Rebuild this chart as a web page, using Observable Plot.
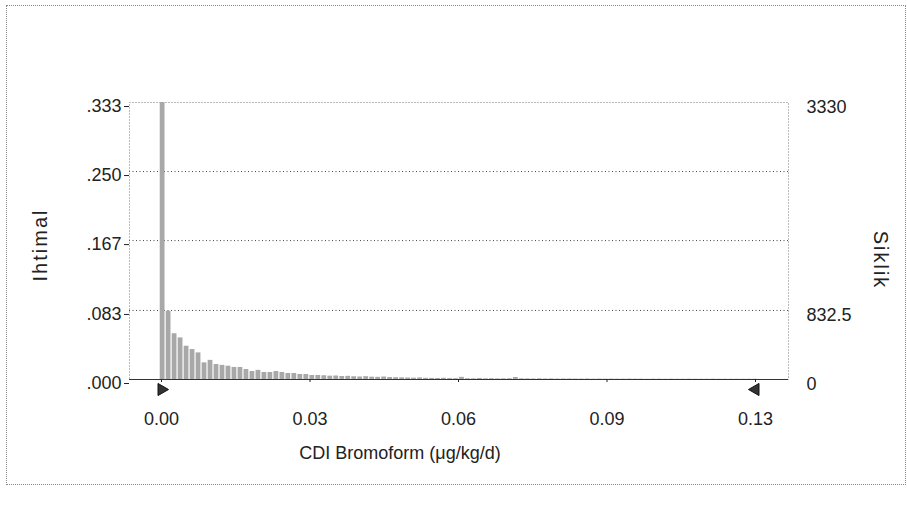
<!DOCTYPE html>
<html>
<head>
<meta charset="utf-8">
<script src="https://cdn.jsdelivr.net/npm/d3@7"></script>
<script src="https://cdn.jsdelivr.net/npm/@observablehq/plot@0.6"></script>
<style>
  html, body { margin: 0; padding: 0; background: #fff; }
  #wrap { position: relative; width: 907px; height: 506px; }
  #border { position: absolute; left: 6px; top: 5px; width: 898px; height: 478px; border: 1px dotted #8a8a8a; pointer-events: none; }
</style>
</head>
<body>
<div id="wrap"><div id="border"></div><div id="chart"></div></div>
<script>
// Forecast histogram: probability per bin (bin width in µg/kg/d)
const binWidth = 0.00127;
const firstBinStart = -0.0004;
const probabilities = [
  0.333, 0.082, 0.055, 0.050, 0.040, 0.036, 0.032, 0.020, 0.023, 0.018,
  0.017, 0.016, 0.0145, 0.0145, 0.012, 0.0096, 0.011, 0.0084, 0.0084, 0.0096,
  0.0084, 0.0072, 0.0072, 0.006, 0.006, 0.0048, 0.0048, 0.0045, 0.004, 0.0042,
  0.0036, 0.0038, 0.0033, 0.003, 0.0034, 0.0028, 0.0026, 0.003, 0.0024, 0.0022,
  0.002, 0.0018, 0.0016, 0.0019, 0.0014, 0.0013, 0.0012, 0.0015, 0.0011, 0.001,
  0.0026, 0.0009, 0.0008, 0.0012, 0.0008, 0.0009, 0.0007, 0.0008, 0.0009, 0.0024,
  0.0008, 0.0007, 0.0006, 0.0008, 0.0006, 0.0007, 0.0005, 0.0006, 0.0006, 0.0005,
  0.0005, 0.0006, 0.0004, 0.0005, 0.0004, 0.0005, 0.0004, 0.0004, 0.0005, 0.0004,
  0.0004, 0.0003, 0.0004, 0.0004, 0.0003, 0.0004, 0.0003, 0.0003, 0.0004, 0.0003,
  0.0003, 0.0003, 0.0004, 0.0003, 0.0003, 0.0003, 0.0003, 0.0003, 0.0003, 0.0003
];

const yTicks = [0, 0.083, 0.167, 0.25, 0.333];
const yTickLabels = [".000", ".083", ".167", ".250", ".333"];
const gridValues = [0.083, 0.167, 0.25];
const rightTicks = [0, 0.08325, 0.333];
const rightTickLabels = ["0", "832.5", "3330"];
const xTicks = [0, 0.0315, 0.063, 0.0945, 0.126];
const xTickLabels = ["0.00", "0.03", "0.06", "0.09", "0.13"];
const certaintyGrabbers = [0, 0.126];
const xDomain = [-0.00679, 0.1330];
const yDomain = [0, 0.333];

const bins = probabilities.map((p, i) => ({
  x0: firstBinStart + i * binWidth,
  x1: firstBinStart + (i + 1) * binWidth,
  p
}));

const chart = Plot.plot({
  width: 907,
  height: 506,
  marginTop: 102,
  marginBottom: 127,
  marginLeft: 129,
  marginRight: 119,
  style: { fontFamily: "Liberation Sans, Arial, sans-serif", fontSize: "18px", color: "#222", background: "transparent" },
  x: { domain: xDomain },
  y: { domain: yDomain },
  marks: [
    Plot.ruleY(gridValues, { stroke: "#444", strokeDasharray: "1,2.5", strokeWidth: 1 }),
    Plot.frame({ stroke: "#777", strokeDasharray: "1,2" }),
    Plot.rectY(bins, { x1: "x0", x2: "x1", y: "p", fill: "#a8a8a8", insetLeft: 0.6, insetRight: 0.6 }),
    Plot.ruleY([0], { stroke: "#333", strokeWidth: 1 }),
    Plot.axisY({ anchor: "left", ticks: yTicks, tickFormat: d => yTickLabels[yTicks.indexOf(d)], tickSize: 5, tickPadding: 3, label: null, fontSize: 18, dy: 4 }),
    Plot.axisY({ anchor: "right", ticks: rightTicks, tickFormat: d => rightTickLabels[rightTicks.indexOf(d)], tickSize: 0, tickPadding: 18, textAnchor: "start", label: null, fontSize: 18, dy: 5 }),
    Plot.axisX({ anchor: "bottom", ticks: xTicks, tickFormat: d => xTickLabels[xTicks.indexOf(d)], tickSize: 3, tickPadding: 30, label: null, fontSize: 18 }),
    Plot.dot(certaintyGrabbers, { x: d => d, y: 0, symbol: "triangle", rotate: d => (d === 0 ? 90 : -90), r: 4.5, fill: "#333", stroke: "#111", strokeWidth: 1, dy: 10 }),
    Plot.text(["Ihtimal"], { frameAnchor: "left", textAnchor: "middle", text: d => d, rotate: -90, dx: -89, dy: 4, fontSize: 20, style: "letter-spacing: 2px" }),
    Plot.text(["Siklik"], { frameAnchor: "right", textAnchor: "middle", text: d => d, rotate: 90, dx: 92, dy: 19, fontSize: 20 }),
    Plot.text(["CDI Bromoform (μg/kg/d)"], { frameAnchor: "bottom", text: d => d, dx: -59, dy: 79, fontSize: 18 })
  ]
});
document.getElementById("chart").appendChild(chart);
chart.querySelectorAll("text").forEach(t => {
  if (t.textContent === "Ihtimal" || t.textContent === "Siklik") t.setAttribute("letter-spacing", "2");
});
</script>
</body>
</html>
